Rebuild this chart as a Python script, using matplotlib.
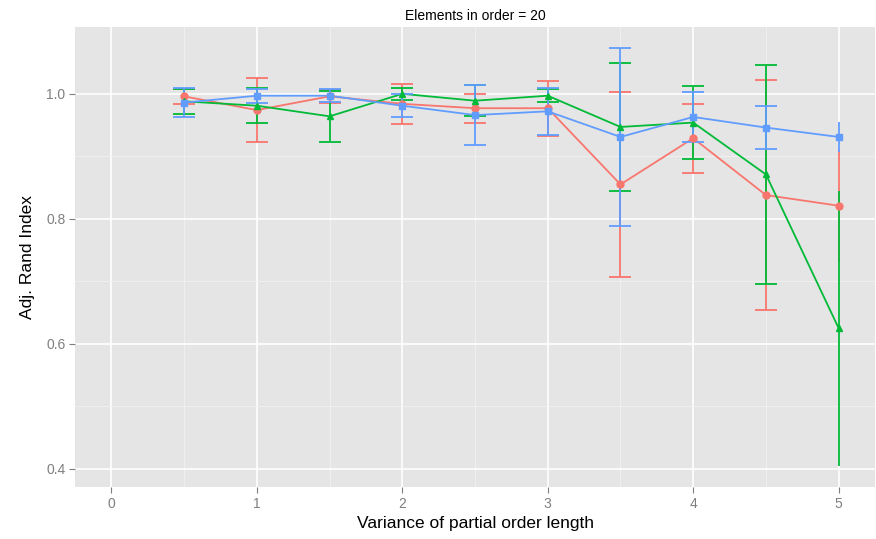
import matplotlib
matplotlib.use("Agg")
import matplotlib.pyplot as plt
import numpy as np

plt.rcParams["font.family"] = ["Liberation Sans", "DejaVu Sans"]

x = [0.5, 1.0, 1.5, 2.0, 2.5, 3.0, 3.5, 4.0, 4.5, 5.0]

red_mean = [0.996, 0.974, 0.996, 0.984, 0.977, 0.977, 0.855, 0.929, 0.838, 0.821]
red_err = [0.012, 0.051, 0.010, 0.032, 0.023, 0.044, 0.148, 0.055, 0.184, 0.090]

green_mean = [0.988, 0.981, 0.964, 1.000, 0.989, 0.997, 0.947, 0.954, 0.871, 0.625]
green_err = [0.020, 0.028, 0.041, 0.010, 0.025, 0.010, 0.103, 0.058, 0.175, 0.220]

blue_mean = [0.986, 0.997, 0.997, 0.981, 0.966, 0.972, 0.931, 0.963, 0.946, 0.931]
blue_err = [0.023, 0.011, 0.010, 0.018, 0.048, 0.038, 0.142, 0.040, 0.035, 0.024]

x_ticks = [0, 1, 2, 3, 4, 5]
y_ticks = [0.4, 0.6, 0.8, 1.0]

title = "Elements in order = 20"
xlabel = "Variance of partial order length"
ylabel = "Adj. Rand Index"

series = [
    (red_mean, red_err, "#F8766D", "o", 5.0),
    (green_mean, green_err, "#00BA38", "^", 5.0),
    (blue_mean, blue_err, "#619CFF", "s", 5.0),
]

fig = plt.figure(figsize=(8.76, 5.39), dpi=100)
ax = fig.add_axes([0.0856, 0.0965, 0.9133, 0.8535])
ax.set_facecolor("#E5E5E5")

xa = np.array(x)
for mean, err, col, mk, ms in series:
    m = np.array(mean)
    e = np.array(err)
    ax.errorbar(xa[:-1], m[:-1], yerr=e[:-1], fmt="none", ecolor=col,
                elinewidth=1.3, capsize=8, capthick=1.3, zorder=3)
    ax.errorbar(xa[-1:], m[-1:], yerr=e[-1:], fmt="none", ecolor=col,
                elinewidth=1.3, capsize=0, zorder=3)
    ax.plot(xa, m, color=col, lw=1.3, zorder=3)
    ax.plot(xa, m, linestyle="none", marker=mk, color=col, markersize=ms, zorder=4)

ax.set_xlim(-0.25, 5.25)
ax.set_ylim(0.371, 1.107)
ax.set_xticks(x_ticks)
ax.set_xticklabels([str(t) for t in x_ticks])
ax.set_yticks(y_ticks)
ax.set_yticklabels([f"{t:.1f}" for t in y_ticks])
ax.set_xticks([0.5, 1.5, 2.5, 3.5, 4.5], minor=True)
ax.set_yticks([0.5, 0.7, 0.9], minor=True)

ax.grid(which="major", color="white", lw=1.2, zorder=0)
ax.grid(which="minor", color="#F2F2F2", lw=0.6, zorder=0)
ax.set_axisbelow(True)
for s in ax.spines.values():
    s.set_visible(False)

ax.tick_params(which="major", length=4, width=0.8, color="#7F7F7F",
               labelcolor="#7F7F7F", labelsize=10, pad=3)
ax.tick_params(which="minor", length=0)

ax.set_xlabel(xlabel, fontsize=12.5, color="black", labelpad=4)
ax.set_ylabel(ylabel, fontsize=12.5, color="black", labelpad=8)
ax.set_title(title, fontsize=10, color="black", pad=5)

fig.savefig("out.png", dpi=100)
